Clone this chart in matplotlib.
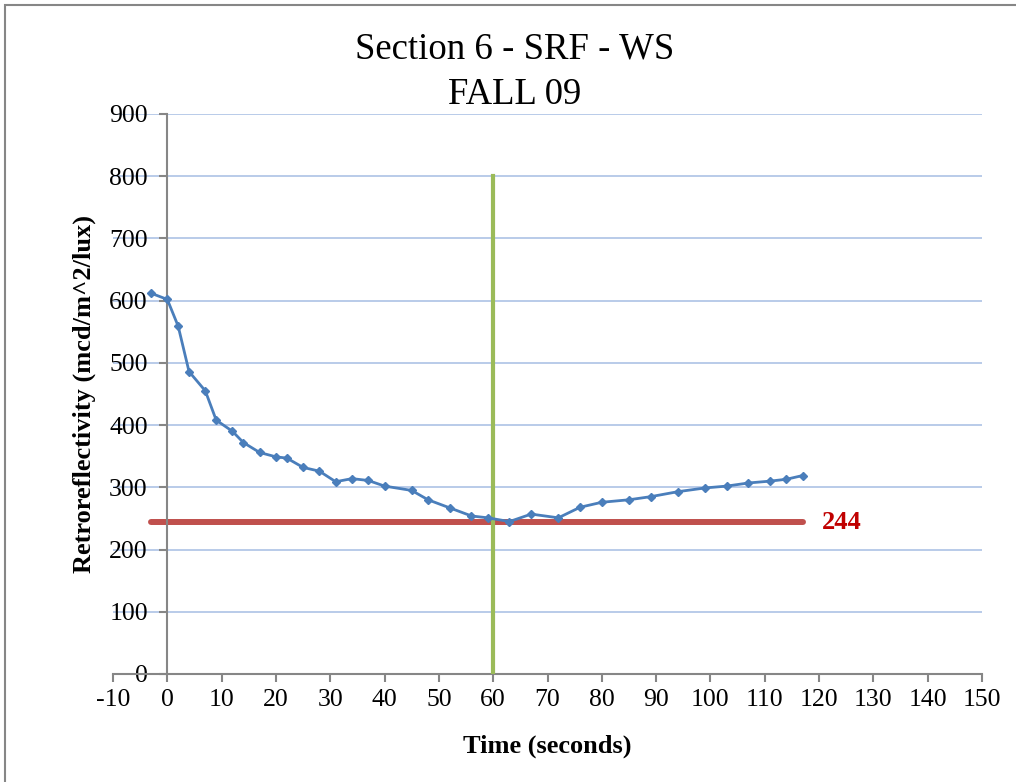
import matplotlib
matplotlib.use("Agg")
import matplotlib.pyplot as plt
from matplotlib.patches import Rectangle

# time (s) and retroreflectivity readings
time_s = [-3, 0, 2, 4, 7, 9, 12, 14, 17, 20, 22, 25, 28, 31, 34, 37, 40, 45,
          48, 52, 56, 59, 63, 67, 72, 76, 80, 85, 89, 94, 99, 103, 107, 111,
          114, 117]
retro = [612, 602, 559, 486, 455, 408, 390, 372, 356, 349, 347, 332, 326,
         309, 314, 311, 302, 295, 280, 267, 254, 251, 245, 257, 251, 268,
         276, 280, 285, 293, 299, 302, 307, 310, 313, 319]

threshold = 244
marker_time = 60
marker_top = 800

x_ticks = list(range(-10, 151, 10))
y_ticks = list(range(0, 901, 100))

plt.rcParams['font.family'] = ['Liberation Serif', 'DejaVu Serif']
plt.rcParams['axes.unicode_minus'] = False

fig = plt.figure(figsize=(10.16, 7.82), dpi=100)
ax = fig.add_axes([113 / 1016, 1 - 674 / 782, 869 / 1016, 560 / 782])

# outer chart border (cropped on right/bottom)
fig.patches.append(Rectangle((5 / 1016, -0.2), 1.5, 1.2 - 5 / 782,
                             transform=fig.transFigure, fill=False,
                             edgecolor='#868686', linewidth=1.5,
                             clip_on=False))

ax.set_xlim(-10, 150)
ax.set_ylim(0, 900)
ax.set_xticks(x_ticks)
ax.set_yticks(y_ticks)
ax.grid(axis='y', color='#b3c7e7', linewidth=1.3, zorder=0)
ax.set_axisbelow(True)

for s in ['top', 'right']:
    ax.spines[s].set_visible(False)
ax.spines['left'].set_position(('data', 0))
for s in ['left', 'bottom']:
    ax.spines[s].set_color('#868686')
    ax.spines[s].set_linewidth(1.5)

ax.tick_params(axis='both', direction='out', length=6, width=1.5,
               color='#868686', labelsize=18.5)
ax.tick_params(axis='y', pad=8)
ax.tick_params(axis='x', pad=5)

ax.plot([time_s[0], time_s[-1]], [threshold, threshold], color='#c0504d',
        linewidth=4.3, solid_capstyle='round', zorder=2)
ax.plot([marker_time, marker_time], [0, marker_top], color='#9bbb59',
        linewidth=3, zorder=3)
ax.plot(time_s, retro, color='#4a7ebb', linewidth=2, marker='D',
        markersize=4.5, zorder=4)

ax.text(time_s[-1] + 3.5, threshold, str(threshold), color='#c00000',
        fontsize=19, fontweight='bold', va='center', ha='left')

ax.set_xlabel('Time (seconds)', fontsize=19, fontweight='bold')
ax.set_ylabel('Retroreflectivity (mcd/m^2/lux)', fontsize=19,
              fontweight='bold')
ax.xaxis.set_label_coords(0.5, -0.108)
ax.yaxis.set_label_coords(-0.02, 0.5)

fig.text(515 / 1016, 1 - 72 / 782, 'Section 6 - SRF - WS\nFALL 09',
         ha='center', va='center', fontsize=26.5, linespacing=1.4)

fig.savefig('out.png', dpi=100)
